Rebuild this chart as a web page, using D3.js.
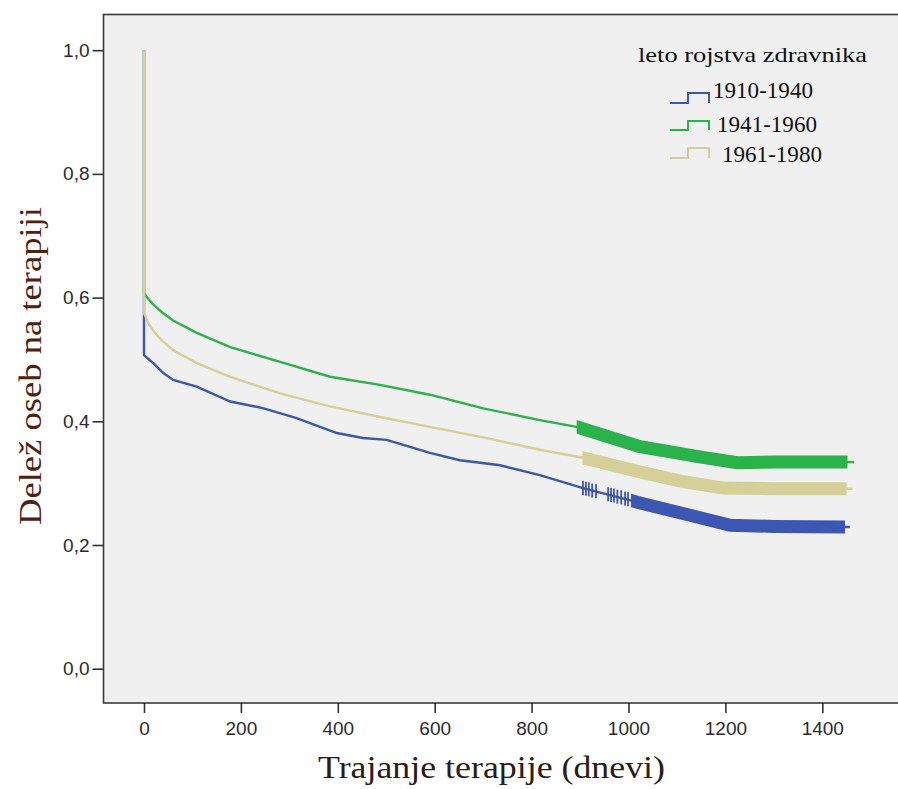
<!DOCTYPE html>
<html>
<head>
<meta charset="utf-8">
<script src="https://cdn.jsdelivr.net/npm/d3@7"></script>
<style>
  body { margin: 0; background: #fff; }
</style>
</head>
<body>
<div id="chart"></div>
<script>
// survival curves, [days, share still on therapy]
const groups = ["1910-1940", "1941-1960", "1961-1980"];
const colors = ["#3d56b2", "#2bb34b", "#d5cf98"];

const blueCurve = [[0,1],[0,0.507],[19,0.494],[40,0.478],[60,0.467],[109,0.456],[178,0.432],[247,0.421],
  [315,0.405],[398,0.381],[452,0.373],[501,0.370],[590,0.349],[652,0.337],[735,0.329],[817,0.313],
  [906,0.292],[1024,0.268],[1127,0.248],[1210,0.232],[1300,0.230],[1457,0.229]];
const greenCurve = [[0,1],[0,0.607],[10,0.597],[20,0.588],[39,0.575],[60,0.563],[109,0.543],[178,0.520],
  [281,0.496],[384,0.472],[487,0.459],[590,0.443],[700,0.421],[817,0.402],[893,0.391],[1024,0.359],
  [1150,0.342],[1224,0.333],[1300,0.334],[1466,0.334]];
const tanCurve = [[0,1],[0,0.575],[10,0.557],[20,0.545],[37,0.531],[60,0.515],[109,0.494],[178,0.472],
  [281,0.445],[384,0.424],[487,0.407],[590,0.391],[700,0.374],[817,0.354],[906,0.341],[1024,0.318],
  [1110,0.303],[1195,0.292],[1300,0.291],[1462,0.291]];

// censored cases: dense ranges [from, to] and single marks [days, share]
const blueCensorBand = [1005, 1447];
const greenCensorBand = [893, 1452];
const tanCensorBand = [905, 1450];
const blueCensorMarks = [[906,0.292],[912,0.291],[918,0.290],[925,0.288],[933,0.287],[958,0.282],
  [964,0.281],[970,0.280],[977,0.278],[985,0.277],[993,0.275],[999,0.274]];

const xTicks = [0, 200, 400, 600, 800, 1000, 1200, 1400];
const yTicks = [0, 0.2, 0.4, 0.6, 0.8, 1.0];

const width = 898, height = 789;
const plot = {left: 103.5, top: 14.5, bottom: 703};

const svg = d3.select("#chart").append("svg")
    .attr("width", width)
    .attr("height", height);

const xScale = d3.scaleLinear().domain([0, 1400]).range([144, 822.3]);
const yScale = d3.scaleLinear().domain([0, 1]).range([668.7, 50.2]);

// plot background + frame
svg.append("rect")
    .attr("x", plot.left).attr("y", plot.top)
    .attr("width", width + 20 - plot.left).attr("height", plot.bottom - plot.top)
    .attr("fill", "#f0f0f0")
    .attr("stroke", "#3a3a3a").attr("stroke-width", 1.6);

// axes
const xAxis = d3.axisBottom(xScale).tickValues(xTicks).tickSize(10).tickSizeOuter(0).tickPadding(5)
    .tickFormat(d3.format("d"));
const yAxis = d3.axisLeft(yScale).tickValues(yTicks).tickSize(11).tickSizeOuter(0).tickPadding(3)
    .tickFormat(d => d3.format(".1f")(d).replace(".", ","));

const gx = svg.append("g").attr("transform", `translate(0,${plot.bottom})`).call(xAxis);
const gy = svg.append("g").attr("transform", `translate(${plot.left},0)`).call(yAxis);
[gx, gy].forEach(g => {
  g.select(".domain").remove();
  g.selectAll(".tick line").attr("stroke", "#333").attr("stroke-width", 1.6);
  g.selectAll(".tick text")
      .attr("font-family", "Liberation Sans, Arial, sans-serif")
      .attr("font-size", 19)
      .attr("fill", "#2b2b2b");
});
gx.selectAll(".tick text").attr("dy", "0.9em");

// curves
const line = d3.line().x(d => xScale(d[0])).y(d => yScale(d[1]));
const curves = [blueCurve, greenCurve, tanCurve];
const bands = [blueCensorBand, greenCensorBand, tanCensorBand];

const defs = svg.append("defs");
bands.forEach((b, i) => {
  defs.append("clipPath").attr("id", "band" + i)
    .append("rect")
      .attr("x", xScale(b[0])).attr("width", xScale(b[1]) - xScale(b[0]))
      .attr("y", 0).attr("height", height);
});

const curveG = svg.append("g");
curves.forEach((c, i) => {
  curveG.append("path")
      .attr("d", line(c))
      .attr("fill", "none")
      .attr("stroke", colors[i])
      .attr("stroke-width", 2.4);
  // dense censor marks merge into a band along the curve
  curveG.append("path")
      .attr("d", line(c))
      .attr("fill", "none")
      .attr("stroke", colors[i])
      .attr("stroke-width", 13)
      .attr("clip-path", `url(#band${i})`);
});

curveG.selectAll("line.censor")
  .data(blueCensorMarks)
  .join("line")
    .attr("class", "censor")
    .attr("x1", d => xScale(d[0])).attr("x2", d => xScale(d[0]))
    .attr("y1", d => yScale(d[1]) - 7).attr("y2", d => yScale(d[1]) + 7)
    .attr("stroke", colors[0])
    .attr("stroke-width", 1.8);

// axis titles
svg.append("text")
    .text("Trajanje terapije (dnevi)")
    .attr("x", 318).attr("y", 778)
    .attr("textLength", 347).attr("lengthAdjust", "spacingAndGlyphs")
    .attr("font-family", "Liberation Serif, Times New Roman, serif")
    .attr("font-size", 31)
    .attr("fill", "#2a1c16");

svg.append("text")
    .text("Delež oseb na terapiji")
    .attr("transform", "translate(41,525) rotate(-90)")
    .attr("textLength", 318).attr("lengthAdjust", "spacingAndGlyphs")
    .attr("font-family", "Liberation Serif, Times New Roman, serif")
    .attr("font-size", 32)
    .attr("fill", "#52200f");

// legend
const legend = svg.append("g");
legend.append("text")
    .text("leto rojstva zdravnika")
    .attr("x", 638).attr("y", 62)
    .attr("textLength", 229).attr("lengthAdjust", "spacingAndGlyphs")
    .attr("font-family", "Liberation Serif, Times New Roman, serif")
    .attr("font-size", 21)
    .attr("fill", "#111");

const legendRows = [
  {textX: 713, base: 98, low: 103, high: 93},
  {textX: 717, base: 132, low: 130, high: 121},
  {textX: 722, base: 162, low: 158, high: 148}
];
legendRows.forEach((r, i) => {
  legend.append("path")
      .attr("d", `M670,${r.low}H688V${r.high}H709V${r.low}`)
      .attr("fill", "none")
      .attr("stroke", colors[i])
      .attr("stroke-width", 2);
  legend.append("text")
      .text(groups[i])
      .attr("x", r.textX).attr("y", r.base)
      .attr("textLength", 100).attr("lengthAdjust", "spacingAndGlyphs")
      .attr("font-family", "Liberation Serif, Times New Roman, serif")
      .attr("font-size", 23)
      .attr("fill", "#111");
});
</script>
</body>
</html>
